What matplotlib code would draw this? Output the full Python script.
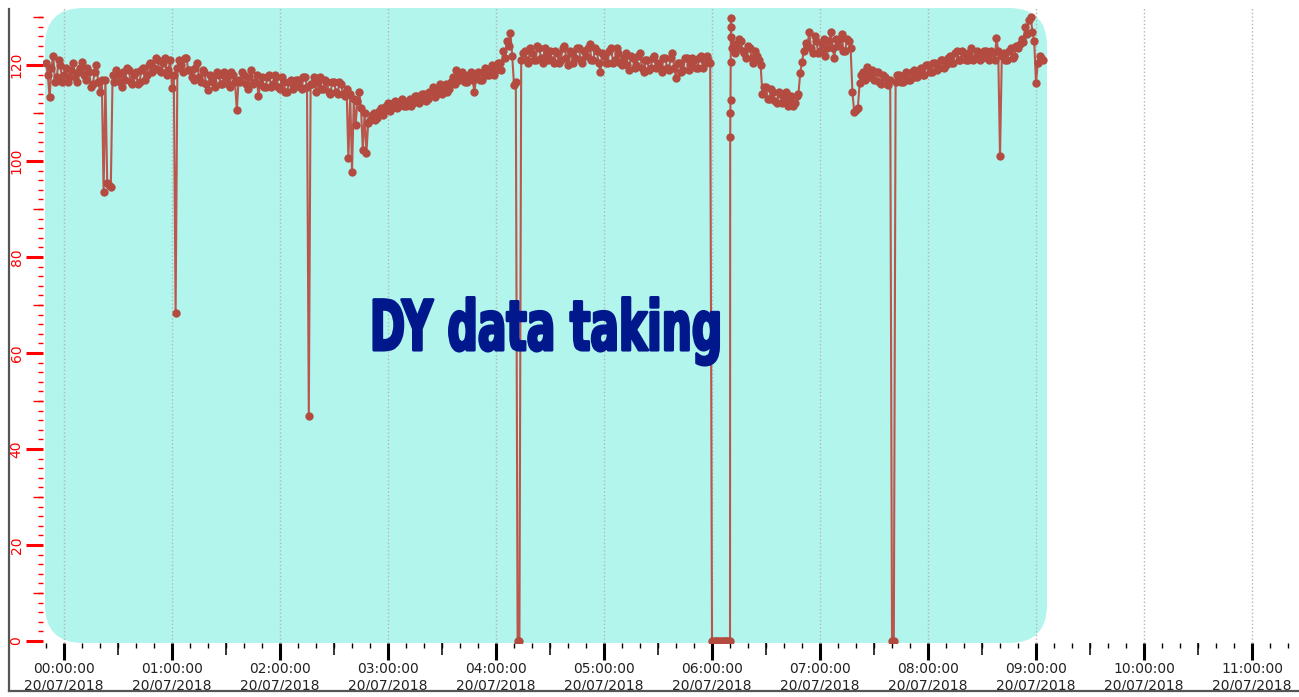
import numpy as np
import matplotlib
matplotlib.use("Agg")
import matplotlib.pyplot as plt
from matplotlib.ticker import MultipleLocator, FuncFormatter, NullFormatter
from matplotlib.patches import FancyBboxPatch
from matplotlib.transforms import IdentityTransform, Affine2D
from matplotlib.lines import Line2D
from matplotlib import patheffects

# readings at even minutes after midnight, 23:50 (19/07) .. 09:04 (20/07)
minutes_a = np.arange(-10, 545, 2)
values_a = [
    # -10 .. 8
    120.5, 113.3, 122.0, 117.5, 120.0, 118.0, 116.5, 119.0, 117.5, 118.5,
    # 10 .. 28
    120.7, 117.0, 118.5, 116.0, 120.0, 114.5, 93.5, 95.5, 94.5, 116.5,
    # 30 .. 48
    118.0, 115.5, 117.0, 119.0, 116.0, 118.5, 116.5, 119.5, 118.0, 120.5,
    # 50 .. 68
    119.5, 121.0, 118.5, 121.5, 119.0, 115.3, 68.3, 121.0, 118.5, 121.5,
    # 70 .. 88
    119.0, 117.0, 120.4, 116.5, 118.5, 114.8, 117.5, 115.5, 118.0, 116.0,
    # 90 .. 108
    117.5, 115.5, 118.0, 110.6, 116.5, 118.0, 115.0, 119.0, 116.5, 113.5,
    # 110 .. 128
    117.5, 115.5, 118.0, 116.0, 117.5, 115.0, 116.5, 114.5, 117.0, 115.5,
    # 130 .. 148
    117.0, 115.0, 117.5, 46.9, 116.0, 114.5, 117.5, 115.0, 116.5, 114.0,
    # 150 .. 168
    116.5, 114.0, 116.0, 113.5, 100.6, 97.7, 107.5, 114.5, 102.3, 101.7,
    # 170 .. 188
    108.5, 110.0, 109.0, 111.0, 110.5, 112.0, 111.0, 112.5, 111.5, 113.0,
    # 190 .. 208
    111.5, 113.0, 112.0, 113.5, 112.5, 114.0, 113.0, 114.5, 113.3, 115.0,
    # 210 .. 228
    114.0, 116.0, 115.0, 117.5, 119.0, 117.0, 118.0, 116.5, 118.5, 114.4,
    # 230 .. 248
    118.5, 117.0, 119.5, 118.0, 120.0, 119.0, 120.5, 123.0, 125.0, 126.6,
    # 250 .. 268
    115.8, 0.0, 121.0, 123.0, 120.5, 122.5, 121.0, 123.5, 120.5, 122.0,
    # 270 .. 288
    123.0, 120.5, 122.5, 121.0, 124.0, 120.0, 122.5, 121.5, 123.5, 120.5,
    # 290 .. 308
    122.0, 124.5, 121.0, 123.0, 118.5, 122.0, 120.5, 123.5, 121.0, 122.5,
    # 310 .. 328
    120.0, 122.5, 119.0, 121.5, 120.0, 122.5, 118.5, 121.0, 119.5, 122.0,
    # 330 .. 348
    120.5, 118.5, 121.5, 119.0, 122.5, 117.3, 120.5, 119.0, 121.5, 120.0,
    # 350 .. 368
    121.0, 119.5, 122.0, 120.5, 121.0, 0.0, 0.0, 0.0, 0.0, 0.0,
    # 370 .. 388
    0.0, 124.5, 123.5, 125.0, 122.5, 124.0, 121.5, 123.0, 121.0, 114.0,
    # 390 .. 408
    115.5, 113.0, 114.5, 112.0, 114.0, 113.0, 111.5, 113.5, 112.0, 114.0,
    # 410 .. 428
    120.6, 124.6, 126.9, 122.5, 125.0, 123.0, 125.5, 123.5, 126.9, 121.5,
    # 430 .. 448
    124.0, 126.5, 123.0, 125.0, 114.4, 110.6, 116.2, 118.5, 119.6, 118.0,
    # 450 .. 468
    117.0, 118.5, 116.0, 117.5, 115.8, 0.0, 116.5, 118.0, 116.5, 118.5,
    # 470 .. 488
    117.0, 119.0, 117.5, 119.5, 118.0, 120.0, 118.5, 120.5, 119.5, 121.0,
    # 490 .. 508
    120.0, 122.0, 120.5, 123.0, 121.0, 122.5, 121.0, 123.5, 121.5, 122.5,
    # 510 .. 528
    121.5, 123.0, 121.0, 122.5, 125.6, 101.0, 122.5, 121.0, 123.5, 122.0,
    # 530 .. 544
    123.5, 125.5, 128.0, 129.5, 127.0, 116.3, 122.0, 121.0,
]

# readings at odd minutes
minutes_b = np.arange(-9, 544, 2)
values_b = [
    # -9 .. 9
    118.0, 119.5, 116.5, 121.0, 116.5, 119.5, 117.5, 120.5, 116.5, 119.5,
    # 11 .. 29
    118.0, 119.5, 115.5, 118.5, 116.5, 117.0, 117.0, 95.0, 118.0, 119.0,
    # 31 .. 49
    116.5, 118.5, 119.5, 116.5, 118.0, 116.0, 119.0, 117.0, 120.0, 118.5,
    # 51 .. 69
    121.5, 119.0, 120.5, 118.0, 121.0, 118.0, 119.5, 120.0, 121.5, 119.0,
    # 71 .. 89
    117.5, 119.5, 117.5, 119.0, 116.0, 118.0, 116.5, 118.5, 116.0, 118.5,
    # 91 .. 109
    116.0, 118.5, 116.5, 117.0, 118.5, 116.0, 117.5, 116.0, 118.0, 116.0,
    # 111 .. 129
    115.5, 117.5, 115.5, 118.0, 115.5, 117.5, 114.5, 116.5, 115.0, 117.0,
    # 131 .. 149
    115.5, 117.5, 115.5, 116.0, 117.5, 116.5, 115.0, 117.0, 114.5, 116.5,
    # 151 .. 169
    114.5, 116.5, 114.0, 115.0, 114.0, 113.0, 112.5, 111.0, 110.0, 108.0,
    # 171 .. 189
    109.5, 108.5, 110.5, 109.5, 111.5, 110.5, 112.0, 111.0, 112.5, 111.5,
    # 191 .. 209
    112.5, 111.5, 113.5, 112.0, 114.0, 112.5, 114.5, 115.5, 114.0, 116.0,
    # 211 .. 229
    115.5, 114.5, 116.5, 116.0, 117.5, 118.5, 116.5, 118.0, 117.0, 117.5,
    # 231 .. 249
    117.0, 118.5, 118.0, 119.5, 118.0, 120.5, 119.0, 121.5, 124.0, 122.0,
    # 251 .. 269
    116.5, 0.0, 122.5, 121.0, 123.5, 121.0, 124.0, 121.5, 123.5, 121.0,
    # 271 .. 289
    121.0, 123.0, 120.5, 123.5, 121.5, 123.0, 120.5, 123.5, 121.0, 123.0,
    # 291 .. 309
    123.5, 121.0, 123.5, 120.5, 122.5, 120.5, 123.0, 120.5, 123.5, 120.5,
    # 311 .. 329
    121.5, 120.0, 122.0, 119.5, 122.0, 119.5, 121.0, 119.0, 121.5, 119.5,
    # 331 .. 349
    119.5, 121.5, 119.5, 121.5, 119.5, 120.5, 118.5, 121.5, 119.0, 121.5,
    # 351 .. 369
    119.5, 121.5, 119.5, 122.0, 120.5, 0.0, 0.0, 0.0, 0.0, 0.0,
    # 371 .. 389
    123.5, 122.5, 125.5, 123.0, 121.5, 123.5, 120.5, 122.0, 120.0, 115.5,
    # 391 .. 409
    113.0, 115.0, 112.5, 114.5, 112.0, 114.5, 113.0, 111.5, 113.5, 118.3,
    # 411 .. 429
    123.0, 124.0, 123.5, 126.0, 122.5, 124.5, 122.0, 125.0, 123.5, 125.5,
    # 431 .. 449
    125.5, 123.0, 125.5, 123.5, 110.2, 111.0, 118.0, 117.0, 117.5, 119.0,
    # 451 .. 469
    118.5, 116.5, 118.0, 116.0, 117.0, 0.0, 118.0, 116.5, 118.0, 117.0,
    # 471 .. 489
    118.5, 117.5, 119.0, 118.0, 120.0, 118.5, 120.5, 119.0, 121.0, 119.5,
    # 491 .. 509
    121.5, 120.5, 122.5, 121.0, 123.0, 121.0, 122.5, 121.0, 123.0, 121.0,
    # 511 .. 529
    123.0, 121.5, 123.0, 121.0, 123.0, 122.0, 121.0, 123.0, 121.5, 124.0,
    # 531 .. 543
    124.5, 124.8, 126.5, 130.0, 125.0, 120.5, 121.5,
]

# fast readings when the beam came back after 06:10
minutes_c = [370.1, 370.2, 370.3, 370.4, 370.5, 370.6, 370.7]
values_c = [105.0, 110.0, 112.7, 120.6, 129.8, 128.0, 125.8]

t = np.concatenate([minutes_a, minutes_b, minutes_c])
v = np.concatenate([values_a, values_b, values_c])
order = np.argsort(t, kind="stable")
t = t[order]
v = v[order]

run_label = "DY data taking"
day_label = "20/07/2018"

line_col = "#bb564d"
mark_col = "#b34b41"
box_col = "#b1f5ec"
text_col = "#00188c"


class Squeeze(patheffects.AbstractPathEffect):
    """squeeze the glyphs horizontally around xc and give them a thick outline"""

    def __init__(self, sx, xc, lw, color):
        super().__init__()
        self.sx = sx
        self.xc = xc
        self.lw = lw
        self.color = color

    def draw_path(self, renderer, gc, tpath, affine, rgbFace=None):
        sq = Affine2D().translate(-self.xc, 0).scale(self.sx, 1).translate(self.xc, 0)
        gc0 = renderer.new_gc()
        gc0.copy_properties(gc)
        gc0.set_linewidth(self.lw)
        gc0.set_foreground(self.color)
        gc0.set_joinstyle("round")
        renderer.draw_path(gc0, tpath, affine + sq, rgbFace)
        gc0.restore()


fig = plt.figure(figsize=(12.99, 6.97), dpi=100)
ax = fig.add_axes([43 / 1299, 54 / 697, 1247 / 1299, 635 / 697])
ax.patch.set_alpha(0)

# rounded cyan band for the run period (pixel coordinates)
band = FancyBboxPatch((45, 54), 1002, 635, boxstyle="round,pad=0,rounding_size=38",
                      transform=IdentityTransform(), facecolor=box_col,
                      edgecolor="none", zorder=0, clip_on=False)
ax.add_patch(band)

ax.plot(t, v, "-", color=line_col, lw=1.5, zorder=3)
ax.plot(t, v, "o", color=mark_col, ms=6, mew=0, zorder=4)

ax.set_xlim(-11.67, 681.1)
ax.set_ylim(-0.42, 131.9)

for s in ax.spines.values():
    s.set_visible(False)

# x axis: hours, with 30 min and 10 min ticks
ax.xaxis.set_major_locator(MultipleLocator(60))
ax.xaxis.set_minor_locator(MultipleLocator(10))
ax.xaxis.set_major_formatter(
    FuncFormatter(lambda m, pos: "%02d:00:00\n%s" % (int(round(m / 60)), day_label)))
ax.tick_params(axis="x", which="major", length=12, width=2.2, color="black",
               labelsize=10, labelcolor="#222222", pad=2)
ax.tick_params(axis="x", which="minor", length=3.6, width=1, color="black")
ax.grid(axis="x", which="major", color="#b5b5b5", linestyle=":", lw=1, zorder=1)

secx = ax.secondary_xaxis("bottom")
secx.xaxis.set_major_locator(MultipleLocator(60, offset=30))
secx.xaxis.set_major_formatter(NullFormatter())
secx.tick_params(length=8.6, width=1.1, color="black")
secx.spines["bottom"].set_visible(False)

# y axis in red
ax.yaxis.set_major_locator(MultipleLocator(20))
ax.yaxis.set_minor_locator(MultipleLocator(2))
ax.tick_params(axis="y", which="major", length=12, width=2.2, color="red",
               labelsize=10, labelcolor="red", pad=2)
ax.tick_params(axis="y", which="minor", length=3.4, width=1, color="red")
for lab in ax.get_yticklabels():
    lab.set_rotation(90)
    lab.set_va("center")

secy = ax.secondary_yaxis("left")
secy.yaxis.set_major_locator(MultipleLocator(20, offset=10))
secy.yaxis.set_major_formatter(NullFormatter())
secy.tick_params(length=7, width=1, color="red")
secy.spines["left"].set_visible(False)

# run label
txt = ax.text(268, 60.6, run_label, ha="center", va="baseline", fontsize=50,
              fontweight="bold", family="DejaVu Sans", color=text_col, zorder=5)
fig.canvas.draw()
bb = txt.get_window_extent()
txt.set_path_effects([Squeeze(353 / bb.width, bb.x0 + bb.width / 2, 2, text_col)])

# frame lines round the canvas
fig.add_artist(Line2D([9 / 1299, 9 / 1299], [6 / 697, 688 / 697], color="#555555", lw=1.6))
fig.add_artist(Line2D([9 / 1299, 1], [6 / 697, 6 / 697], color="#555555", lw=1.6))

fig.savefig("out.png", dpi=100)
